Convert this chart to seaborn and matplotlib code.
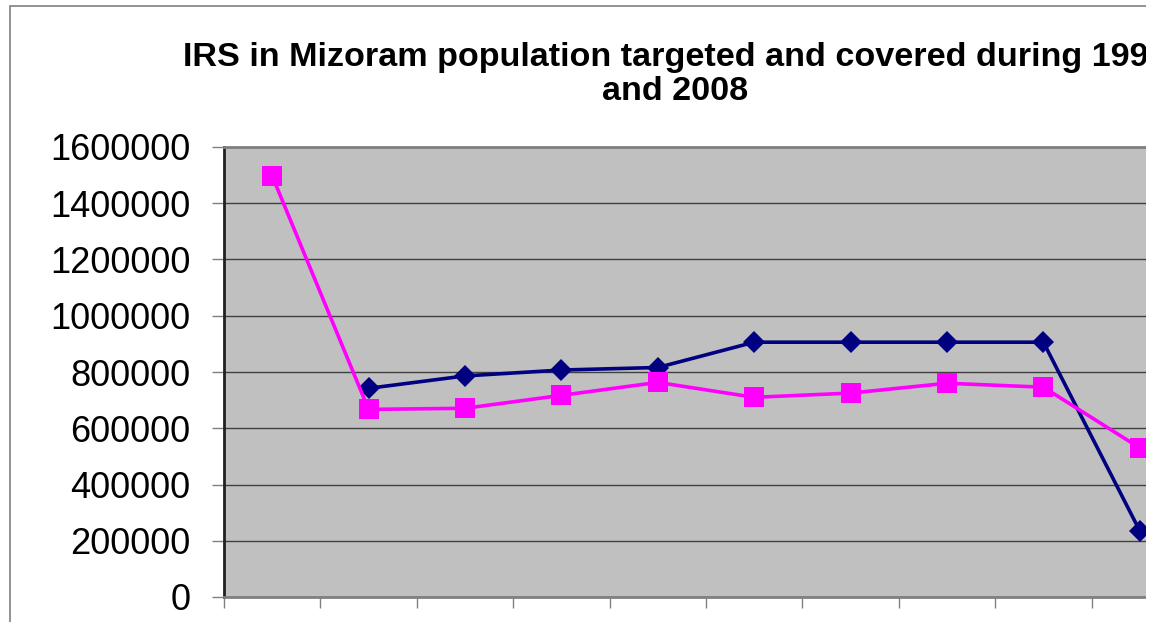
import numpy as np
import pandas as pd
import matplotlib
matplotlib.use("Agg")
import matplotlib.pyplot as plt
from matplotlib.patches import Rectangle
import seaborn as sns

# values (last category is cut by the crop)
years = [1998, 1999, 2000, 2001, 2002, 2003, 2004, 2005, 2006, 2007]
targeted = [np.nan, 742000, 786000, 807000, 816000, 906000, 906000, 906000, 906000, 235000]
covered = [1497000, 667000, 671000, 717000, 763000, 710000, 725000, 760000, 746000, 530000]
yticks = [0, 200000, 400000, 600000, 800000, 1000000, 1200000, 1400000, 1600000]
title = "IRS in Mizoram population targeted and covered during 1998\nand 2008"

df = pd.DataFrame({
    "pos": list(range(len(years))) * 2,
    "year": years * 2,
    "value": targeted + covered,
    "serie": ["targeted"] * len(years) + ["covered"] * len(years),
})

sns.set_style("white")
plt.rcParams['font.family'] = ['Liberation Sans', 'DejaVu Sans']
plt.rcParams['text.color'] = 'black'
plt.rcParams['ytick.labelcolor'] = 'black'

W, H = 1158, 622
fig = plt.figure(figsize=(W / 100, H / 100), dpi=100)

# outer chart border (Excel chart area)
fig.patches.append(Rectangle((10 / W, -0.1), 2, 1.1 - 6 / H, transform=fig.transFigure,
                             fill=False, edgecolor="#808080", lw=1.2, zorder=0))

cat_w = 96.4
ncat = 11
ax = fig.add_axes([224 / W, (H - 597) / H, ncat * cat_w / W, 450 / H])
ax.set_facecolor("#C0C0C0")

sns.lineplot(data=df, x="pos", y="value", hue="serie", style="serie",
             palette={"targeted": "#000080", "covered": "#FF00FF"},
             markers={"targeted": "D", "covered": "s"}, dashes=False,
             markersize=14, linewidth=2.6, markeredgewidth=0, legend=False, ax=ax)
for ln in ax.get_lines():
    if ln.get_marker() == "D":
        ln.set_markersize(11.5)
    ln.set_clip_on(False)

ax.set_xlim(-0.5, ncat - 0.5)
ax.set_ylim(0, 1600000)
ax.set_yticks(yticks)
ax.set_yticklabels([str(v) for v in yticks], fontsize=26, color="black")
ax.set_xticks(np.arange(-0.5, ncat, 1))
ax.set_xticklabels([])
ax.set_xlabel("")
ax.set_ylabel("")
ax.tick_params(axis="y", length=8.6, width=1, color="#808080", pad=15.5, left=True)
ax.tick_params(axis="x", length=8, width=1, color="#808080", bottom=True)
ax.yaxis.grid(True, color="#404040", lw=1)
ax.set_axisbelow(True)
for s in ["top", "right"]:
    ax.spines[s].set_color("#808080")
    ax.spines[s].set_linewidth(2)
ax.spines["left"].set_color("#202020")
ax.spines["left"].set_linewidth(2)
ax.spines["bottom"].set_color("#808080")
ax.spines["bottom"].set_linewidth(2)

fig.text(675 / W, 1 - 42 / H, title, ha="center", va="top", fontsize=24.6,
         fontweight="bold", linespacing=1.12, color="black")

# the source picture is cropped at x=1146
fig.patches.append(Rectangle((1146 / W, 0), 1, 1, transform=fig.transFigure,
                             facecolor="white", edgecolor="none", zorder=10))

fig.savefig("out.png", dpi=100)
